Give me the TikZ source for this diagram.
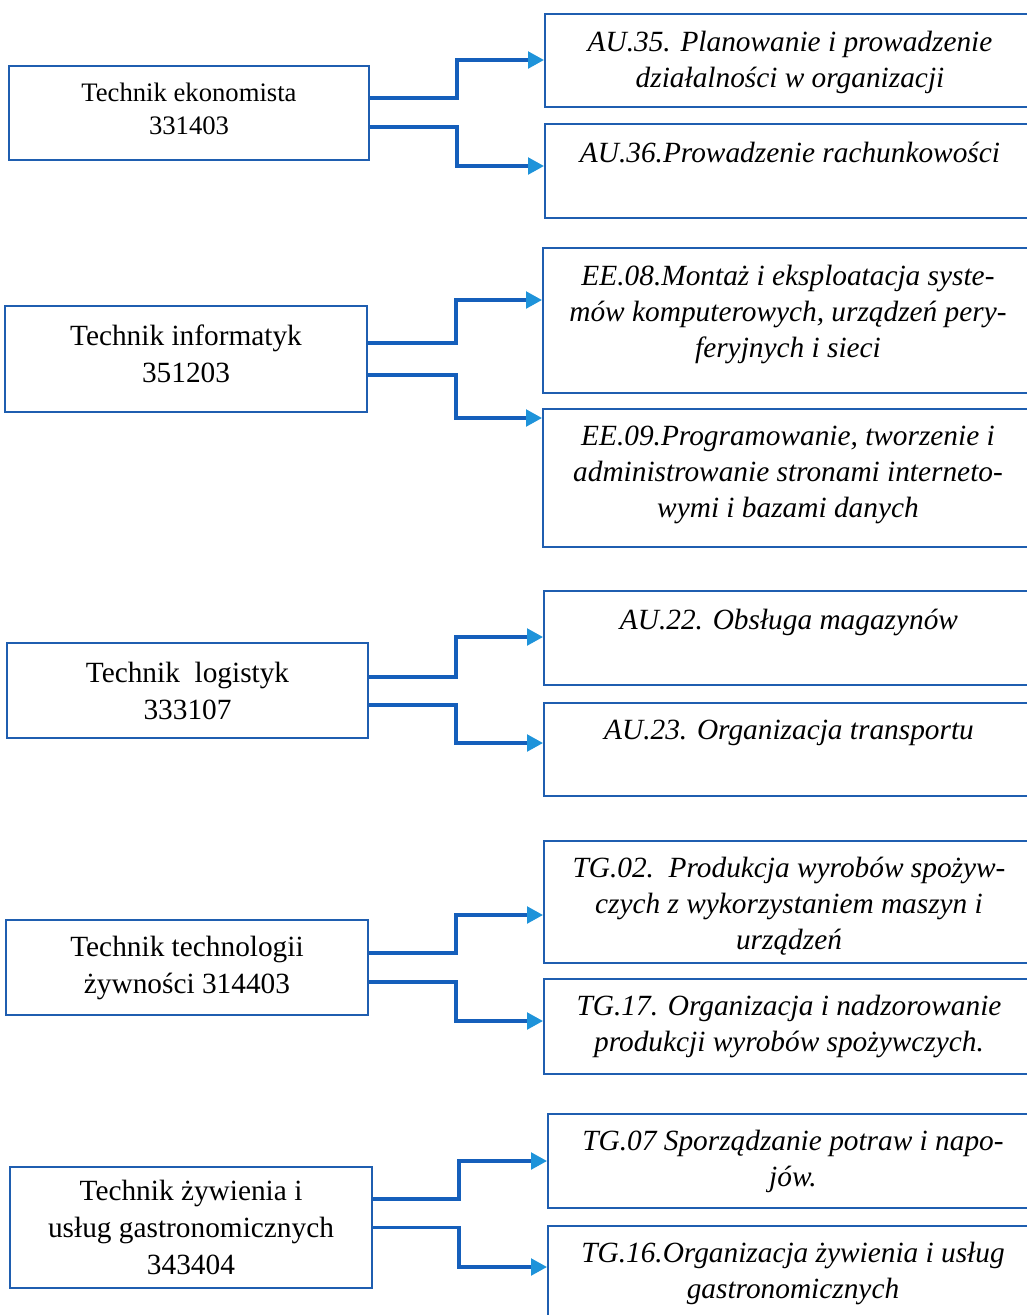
\documentclass[tikz,border=0pt]{standalone}
\usepackage{fontspec}
\setmainfont{Liberation Serif}
\usetikzlibrary{arrows.meta,calc}
\definecolor{boxblue}{HTML}{1F5EB0}
\definecolor{linkblue}{HTML}{155FBB}
\definecolor{tipblue}{HTML}{1E93DA}
\begin{document}
\begin{tikzpicture}[x=0.75pt,y=-0.75pt,
 lbox/.style={draw=boxblue, line width=1.5pt, rectangle, align=center, inner sep=0pt},
 rbox/.style={draw=boxblue, line width=1.5pt, rectangle, anchor=north west, inner sep=0pt},
 rtext/.style={anchor=north, align=center, inner sep=0pt, font=\fontsize{22}{27}\selectfont\itshape},
 conn/.style={draw=linkblue, line width=2.4pt, -{Triangle[length=12pt,width=12.5pt,color=tipblue]}}]
\fill[white] (0,0) rectangle (1026,1315);
\useasboundingbox (0,0) rectangle (1026,1315);

% ---------- left boxes ----------
\node[lbox, minimum width=270pt, minimum height=70.5pt, font=\fontsize{20}{24.75}\selectfont] (l1) at (189,113) {Technik ekonomista\\331403\\[-18.75pt]};
\node[lbox, minimum width=271.5pt, minimum height=79.5pt, font=\fontsize{22}{27.75}\selectfont] (l2) at (186,359) {Technik informatyk\\351203\\[-20.25pt]};
\node[lbox, minimum width=270.75pt, minimum height=71.25pt, font=\fontsize{22}{27.75}\selectfont] (l3) at (187.5,690.5) {Technik\ \ logistyk\\333107};
\node[lbox, minimum width=271.5pt, minimum height=71.25pt, font=\fontsize{22}{27.75}\selectfont] (l4) at (187,967.5) {Technik technologii\\żywności 314403};
\node[lbox, minimum width=271.5pt, minimum height=90.75pt, font=\fontsize{22}{27.5}\selectfont] (l5) at (191,1227.5) {Technik żywienia i\\usług gastronomicznych\\343404};

% ---------- right boxes ----------
\node[rbox, minimum width=372pt, minimum height=69.75pt] (a1) at (544,13) {};
\node[rbox, minimum width=372pt, minimum height=70.5pt] (a2) at (544,123) {};
\node[rbox, minimum width=373.5pt, minimum height=108.75pt] (b1) at (542,247) {};
\node[rbox, minimum width=373.5pt, minimum height=103.5pt] (b2) at (542,408) {};
\node[rbox, minimum width=372.75pt, minimum height=70.5pt] (c1) at (543,590) {};
\node[rbox, minimum width=372.75pt, minimum height=69.75pt] (c2) at (543,702) {};
\node[rbox, minimum width=372.75pt, minimum height=91.5pt] (d1) at (543,840) {};
\node[rbox, minimum width=372.75pt, minimum height=71.25pt] (d2) at (543,978) {};
\node[rbox, minimum width=369.75pt, minimum height=70.5pt] (e1) at (547,1113) {};
\node[rbox, minimum width=369.75pt, minimum height=82.5pt] (e2) at (547,1225) {};

% ---------- right texts ----------
\node[rtext] (a1t) at ([xshift=184.5pt,yshift=-13.5pt]a1.north west) {AU.35. Planowanie i prowadzenie\\działalności w organizacji};
\node[rtext] (a2t) at ([xshift=184.5pt,yshift=-14.5pt]a2.north west) {AU.36.Prowadzenie rachunkowości};
\node[rtext] (b1t) at ([xshift=184.5pt,yshift=-13.5pt]b1.north west) {EE.08.Montaż i eksploatacja syste-\\mów komputerowych, urządzeń pery-\\feryjnych i sieci};
\node[rtext] (b2t) at ([xshift=184.5pt,yshift=-13.5pt]b2.north west) {EE.09.Programowanie, tworzenie i\\administrowanie stronami interneto-\\wymi i bazami danych};
\node[rtext] (c1t) at ([xshift=184.5pt,yshift=-14pt]c1.north west) {AU.22. Obsługa magazynów};
\node[rtext] (c2t) at ([xshift=184.5pt,yshift=-13.5pt]c2.north west) {AU.23. Organizacja transportu};
\node[rtext] (d1t) at ([xshift=184.5pt,yshift=-12.75pt]d1.north west) {TG.02.\ \ Produkcja wyrobów spożyw-\\czych z wykorzystaniem maszyn i\\urządzeń};
\node[rtext] (d2t) at ([xshift=184.5pt,yshift=-12.75pt]d2.north west) {TG.17. Organizacja i nadzorowanie\\produkcji wyrobów spożywczych.};
\node[rtext] (e1t) at ([xshift=184.5pt,yshift=-12.75pt]e1.north west) {TG.07 Sporządzanie potraw i napo-\\jów.};
\node[rtext] (e2t) at ([xshift=184.5pt,yshift=-12.75pt]e2.north west) {TG.16.Organizacja żywienia i usług\\gastronomicznych};

% ---------- connectors ----------
\draw[conn] ($(l1.east)+(0,-15)$) -- ++(87,0) |- (a1.west |- 0,60);
\draw[conn] ($(l1.east)+(0,14)$) -- ++(87,0) |- (a2.west |- 0,166);
\draw[conn] ($(l2.east)+(0,-16)$) -- ++(88,0) |- (b1.west |- 0,300);
\draw[conn] ($(l2.east)+(0,16)$) -- ++(88,0) |- (b2.west |- 0,418);
\draw[conn] ($(l3.east)+(0,-13.5)$) -- ++(87,0) |- (c1.west |- 0,637);
\draw[conn] ($(l3.east)+(0,14.5)$) -- ++(87,0) |- (c2.west |- 0,743);
\draw[conn] ($(l4.east)+(0,-14.5)$) -- ++(87,0) |- (d1.west |- 0,915);
\draw[conn] ($(l4.east)+(0,14.5)$) -- ++(87,0) |- (d2.west |- 0,1021);
\draw[conn] ($(l5.east)+(0,-28.5)$) -- ++(86,0) |- (e1.west |- 0,1161);
\draw[conn] ($(l5.east)+(0,0)$) -- ++(86,0) |- (e2.west |- 0,1267);
\end{tikzpicture}
\end{document}
